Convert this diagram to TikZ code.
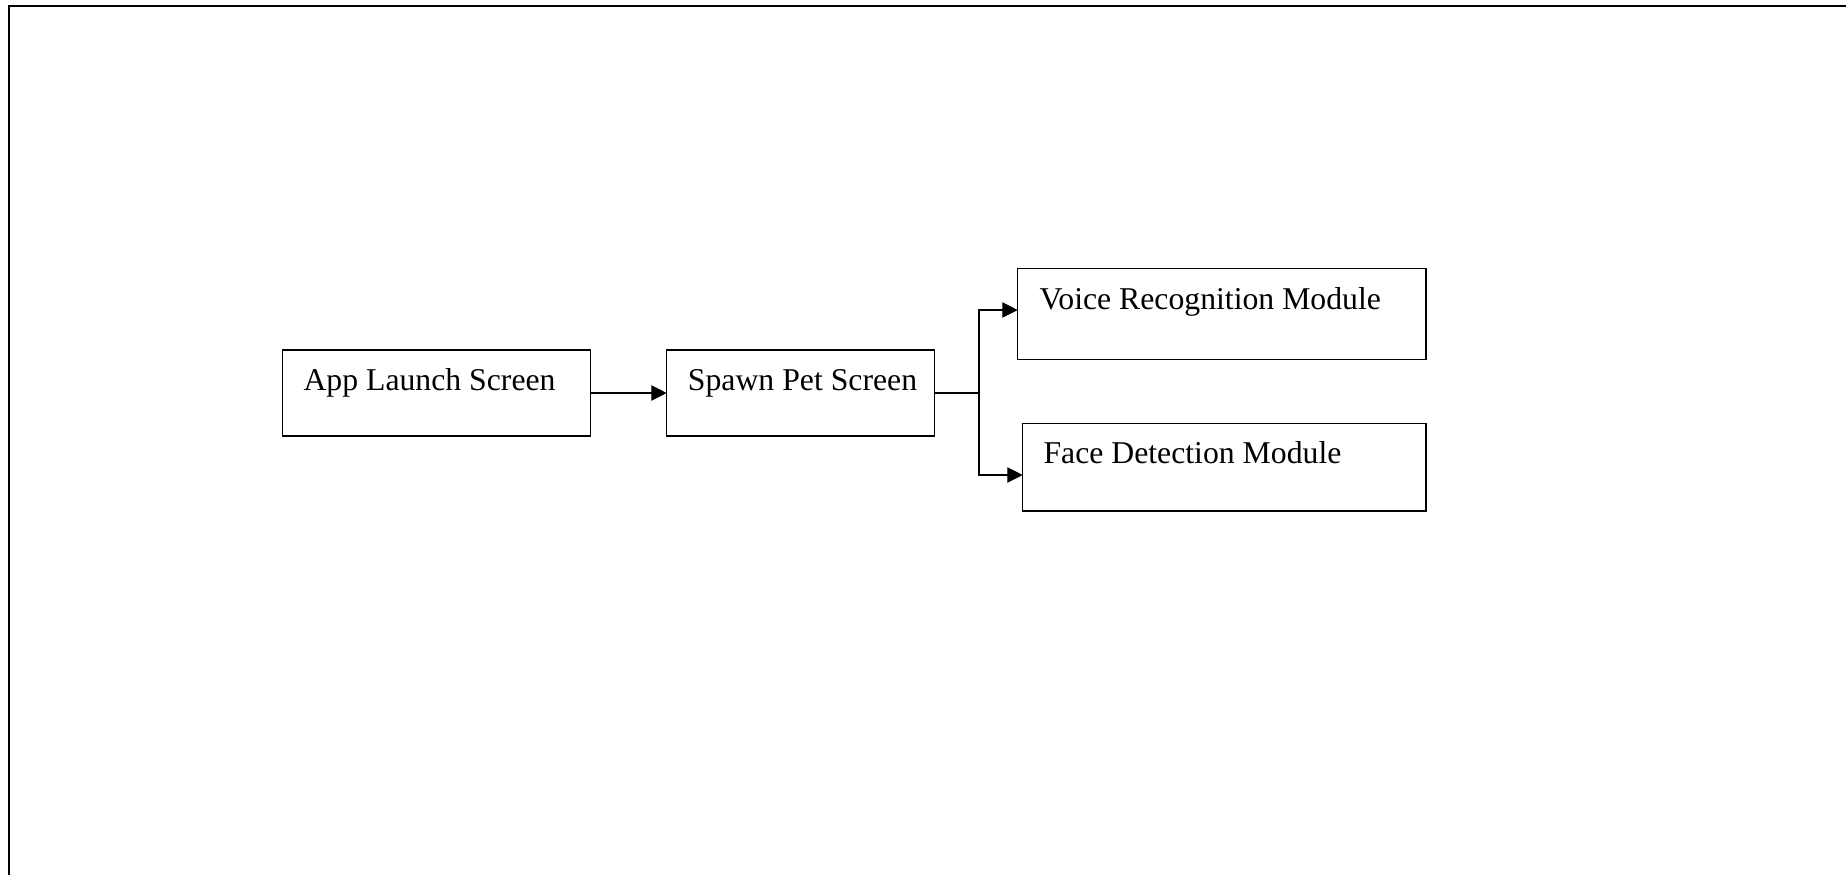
\documentclass[tikz,border=0pt]{standalone}
\usepackage{fontspec}
\setmainfont{Liberation Serif}
\usetikzlibrary{arrows.meta}
\newdimen\px \px=0.75pt
\begin{document}
\begin{tikzpicture}[x=0.75pt,y=-0.75pt,
  stepbox/.style={draw, line width=1.1\px, inner sep=0pt, outer sep=0pt, anchor=north west},
  caption/.style={anchor=base west, inner sep=0pt, font=\fontsize{23.8pt}{28pt}\selectfont},
  conn/.style={draw, line width=1.1\px},
  flow/.style={conn, -{Triangle[length=11.5pt, width=11.5pt]}},
  frame/.style={draw, line width=2.5\px}]
\useasboundingbox (0,0) rectangle (1846,875);

% page frame (top and left edges)
\draw[frame] (9,875) -- (9,6) -- (1846,6);

% boxes
\node[stepbox, minimum width=307.6\px, minimum height=86\px] (launch) at (282.7,350) {};
\node[stepbox, minimum width=267.6\px, minimum height=86\px] (spawn) at (666.7,350) {};
\node[stepbox, minimum width=408.3\px, minimum height=90.6\px] (voice) at (1017.7,268.7) {};
\node[stepbox, minimum width=403.3\px, minimum height=87.3\px] (face) at (1022.7,423.7) {};

% box captions
\node[caption] (launchtxt) at ([shift={(20.6,40.7)}]launch.north west) {App Launch Screen};
\node[caption] (spawntxt) at ([shift={(21,40.7)}]spawn.north west) {Spawn Pet Screen};
\node[caption] (voicetxt) at ([shift={(21.6,40.6)}]voice.north west) {Voice Recognition Module};
\node[caption] (facetxt) at ([shift={(20.6,39.6)}]face.north west) {Face Detection Module};

% branch points
\coordinate (fork) at (979,393);
\coordinate (vjoin) at (979,310);
\coordinate (fjoin) at (979,475);

% connectors
\draw[flow] (launch.east) -- (spawn.west);
\draw[conn] (spawn.east) -- (fork);
\draw[flow] (fork) -- (vjoin) -- (vjoin -| voice.west);
\draw[flow] (fork) -- (fjoin) -- (fjoin -| face.west);
\end{tikzpicture}
\end{document}
